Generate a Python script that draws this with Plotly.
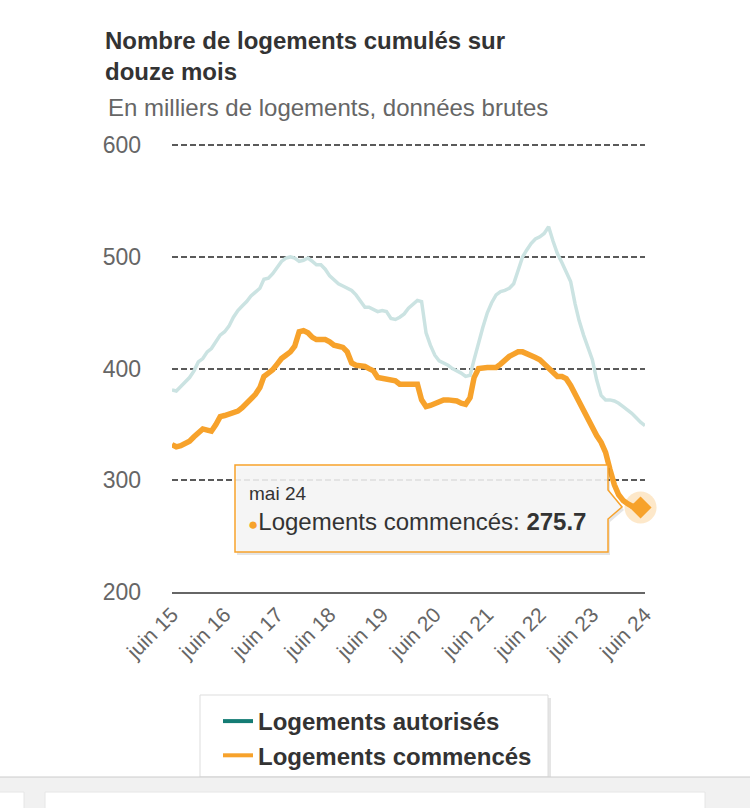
import pandas as pd
import plotly.graph_objects as go

# cumulative 12-month totals, thousands of dwellings, monthly from juin 2015
autorises = [
    381, 380, 384, 388, 392, 398, 406, 409, 415, 418, 424, 430,
    433, 438, 446, 452, 456, 460, 465, 469, 472, 480, 481, 485,
    490, 496, 499, 500, 499, 496, 497, 499, 496, 493, 493, 489,
    483, 480, 476, 474, 472, 470, 466, 461, 455, 455, 453, 451,
    452, 451, 445, 444, 446, 449, 454, 458, 461, 460, 432, 421,
    412, 407, 405, 403, 400, 398, 396, 393, 394, 408, 424, 437,
    450, 459, 466, 469, 470, 472, 476, 488, 500, 506, 512, 516,
    518, 521, 527, 514, 503, 495, 486, 478, 458, 443, 430, 420,
    408, 390, 376, 372, 372, 371, 369, 366, 363, 360, 356, 352,
    349,
]
commences = [
    332, 330, 331, 333, 335, 339, 342, 346, 345, 344, 350, 357,
    358, 359, 360, 362, 365, 369, 373, 377, 383, 393, 396, 399,
    404, 409, 412, 415, 420, 433, 434, 432, 428, 426, 426, 426,
    424, 421, 420, 419, 415, 405, 403, 403, 402, 400, 398, 392,
    391, 391, 390, 389, 386, 386, 387, 387, 386, 372, 366, 367,
    369, 371, 372, 372, 372, 371, 369, 368, 374, 392, 400, 401,
    401, 401, 401, 404, 408, 411, 413, 415, 415, 413, 412, 410,
    408, 404, 401, 397, 393, 393, 391, 385, 377, 369, 361, 355,
    347, 340, 334, 325, 310, 296, 287, 282, 279, 277, 276.3, 275.7,
]
months = pd.date_range("2015-06-01", periods=len(autorises), freq="MS")
tick_years = list(range(2015, 2025))
tick_labels = ["juin %02d" % (y % 100) for y in tick_years]
month_names = ["janv", "févr", "mars", "avr", "mai", "juin",
               "juil", "août", "sept", "oct", "nov", "déc"]

ORANGE = "#f7a22b"
TEAL_FADED = "#cbe3e2"
TEAL = "#147c74"
GRID = "#5a5a5a"
FONT = "Liberation Sans, Arial, sans-serif"

W, H = 750, 808
L, R, T, B = 172, 105, 143, 216
PW, PH = W - L - R, H - T - B


def px(x):
    return (x - L) / PW


def py(y):
    return (H - B - y) / PH


c_months = months[:len(commences)]
last_x, last_y = c_months[-1], commences[-1]

fig = go.Figure()
fig.add_trace(go.Scatter(x=months, y=autorises, mode="lines",
                         line=dict(color=TEAL_FADED, width=3.5),
                         showlegend=False, hoverinfo="skip"))
fig.add_trace(go.Scatter(x=c_months, y=commences, mode="lines",
                         line=dict(color=ORANGE, width=5.5),
                         showlegend=False, hoverinfo="skip"))
# hover halo + marker on the last point
fig.add_trace(go.Scatter(x=[last_x], y=[last_y], mode="markers", cliponaxis=False,
                         marker=dict(size=32, color="rgba(247,162,43,0.25)"),
                         showlegend=False, hoverinfo="skip"))
fig.add_trace(go.Scatter(x=[last_x], y=[last_y], mode="markers", cliponaxis=False,
                         marker=dict(size=17, symbol="diamond", color=ORANGE,
                                     line=dict(width=0)),
                         showlegend=False, hoverinfo="skip"))
# legend entries
fig.add_trace(go.Scatter(x=[None], y=[None], mode="lines", name="Logements autorisés",
                         line=dict(color=TEAL, width=4)))
fig.add_trace(go.Scatter(x=[None], y=[None], mode="lines", name="Logements commencés",
                         line=dict(color=ORANGE, width=4)))

# tooltip box
tip = [(235, 465), (608, 465), (608, 490), (622, 507), (608, 519), (608, 552), (235, 552)]


def path(pts, dx=0, dy=0):
    return "M " + " L ".join("%.4f,%.4f" % (px(x + dx), py(y + dy)) for x, y in pts) + " Z"


shapes = [
    dict(type="path", xref="paper", yref="paper", path=path(tip, 2, 3),
         fillcolor="rgba(0,0,0,0.10)", line=dict(width=0), layer="above"),
    dict(type="path", xref="paper", yref="paper", path=path(tip),
         fillcolor="rgba(247,247,247,0.88)", line=dict(color=ORANGE, width=1.5), layer="above"),
    # legend box + shadow
    dict(type="rect", xref="paper", yref="paper", x0=px(202), x1=px(551), y0=py(698), y1=py(779),
         fillcolor="rgba(0,0,0,0.10)", line=dict(width=0), layer="below"),
    dict(type="rect", xref="paper", yref="paper", x0=px(200), x1=px(548), y0=py(695), y1=py(777),
         fillcolor="white", line=dict(color="#dddddd", width=1), layer="below"),
    # browser strip at the bottom
    dict(type="rect", xref="paper", yref="paper", x0=px(0), x1=px(750), y0=py(777), y1=py(808),
         fillcolor="#f1f1f1", line=dict(width=0), layer="above"),
    dict(type="line", xref="paper", yref="paper", x0=px(0), x1=px(750), y0=py(777), y1=py(777),
         line=dict(color="#cccccc", width=1), layer="above"),
    dict(type="rect", xref="paper", yref="paper", x0=px(45), x1=px(705), y0=py(792), y1=py(812),
         fillcolor="white", line=dict(color="#e6e6e6", width=1), layer="above"),
    dict(type="rect", xref="paper", yref="paper", x0=px(-5), x1=px(24), y0=py(792), y1=py(812),
         fillcolor="white", line=dict(color="#e6e6e6", width=1), layer="above"),
]

tip_date = "%s %02d" % (month_names[last_x.month - 1], last_x.year % 100)
annotations = [
    dict(text="<b>Nombre de logements cumulés sur<br>douze mois</b>", xref="paper", yref="paper",
         x=px(103), y=py(25), xanchor="left", yanchor="top", align="left", showarrow=False,
         font=dict(family=FONT, size=24, color="#333333")),
    dict(text="En milliers de logements, données brutes", xref="paper", yref="paper",
         x=px(106), y=py(92), xanchor="left", yanchor="top", align="left", showarrow=False,
         font=dict(family=FONT, size=24, color="#666666")),
    dict(text=tip_date, xref="paper", yref="paper", x=px(247), y=py(493), xanchor="left",
         yanchor="middle", showarrow=False, font=dict(family=FONT, size=19, color="#333333")),
    dict(text="<span style='color:%s;font-size:17px'>●</span>Logements commencés: <b>%s</b>"
         % (ORANGE, last_y), xref="paper", yref="paper", x=px(246), y=py(521), xanchor="left",
         yanchor="middle", showarrow=False, font=dict(family=FONT, size=24, color="#333333")),
]

fig.update_layout(
    width=W, height=H,
    margin=dict(l=L, r=R, t=T, b=B),
    paper_bgcolor="white", plot_bgcolor="white",
    font=dict(family=FONT, color="#666666"),
    shapes=shapes, annotations=annotations,
    hovermode=False,
    legend=dict(x=px(218), y=py(699), xanchor="left", yanchor="top",
                bgcolor="rgba(0,0,0,0)", borderwidth=0,
                font=dict(family=FONT, size=24, color="#333333", weight="bold"),
                tracegroupgap=0, itemwidth=30),
    xaxis=dict(
        range=[months[0], months[-1]],
        tickvals=[pd.Timestamp(y, 6, 1) for y in tick_years],
        ticktext=tick_labels, tickangle=-45,
        tickfont=dict(size=21, color="#666666"),
        showgrid=False, zeroline=False,
        showline=True, linecolor="#666666", linewidth=2,
        ticks="",
    ),
    yaxis=dict(
        range=[200, 602], tickvals=[200, 300, 400, 500, 600],
        tickfont=dict(size=23, color="#666666"),
        showgrid=True, gridcolor=GRID, gridwidth=1.6, griddash="6px,3px",
        zeroline=False, ticklabelstandoff=30,
    ),
)

fig.write_html("out.html", config={"displayModeBar": False},
               post_script="document.body.style.margin='0';")
